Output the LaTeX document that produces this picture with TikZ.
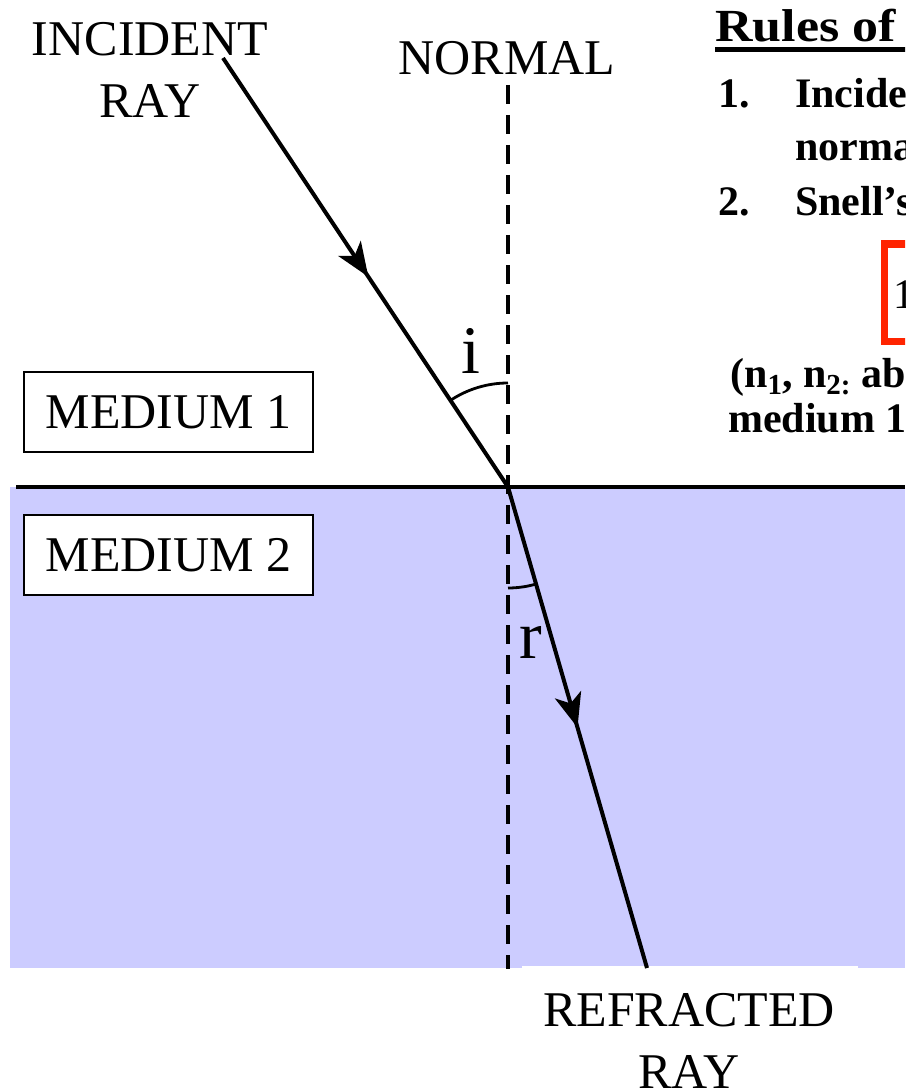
\documentclass[tikz,border=0pt]{standalone}
\usepackage{fontspec}
\setmainfont{Liberation Serif}
\usetikzlibrary{arrows.meta,decorations.markings,calc}
\definecolor{mediumblue}{RGB}{204,204,255}
\definecolor{snellred}{RGB}{255,36,0}
\begin{document}
\begin{tikzpicture}[x=1pt,y=-1pt,
  lbl/.style={font=\fontsize{50}{62}\selectfont, inner sep=0pt, align=center},
  anglbl/.style={font=\fontsize{68}{70}\selectfont, inner sep=0pt},
  ray/.style={line width=4pt},
  midarrow/.style={postaction={decorate}, decoration={markings,
      mark=at position #1 with {\arrow{Stealth[length=34pt,width=27pt,inset=9pt]}}}},
  normalline/.style={line width=3.7pt, dash pattern=on 19pt off 11pt},
  anglearc/.style={line width=2.8pt},
  medbox/.style={draw, line width=1.5pt, fill=white, minimum width=289pt,
      minimum height=80pt, inner sep=0pt, font=\fontsize{50}{62}\selectfont},
  rule/.style={font=\bfseries\fontsize{42}{48}\selectfont, inner sep=0pt, anchor=base west},
  snellbox/.style={draw=snellred, line width=7pt, inner sep=0pt}
]
\useasboundingbox (0,0) rectangle (905,1091);
\clip (0,0) rectangle (905,1091);
\fill[white] (0,0) rectangle (905,1091);

% points
\coordinate (inc) at (223,58);
\coordinate (O) at (508,487);
\coordinate (refr) at (647,968);
\coordinate (ntop) at (508,85);
\coordinate (nbot) at (508,969);
\coordinate (ifL) at (16,487);
\coordinate (ifR) at (905,487);

% medium 2 region
\fill[mediumblue] (10,487) rectangle (905,968);
\fill[white] (522,966) rectangle (858,975);

% normal and interface
\draw[normalline] (ntop) -- (nbot);
\draw[line width=4pt] (ifL) -- (ifR);

% rays
\draw[ray, midarrow=0.51] (inc) -- (O);
\draw[ray, midarrow=0.5] (O) -- (refr);

% angles
\draw[anglearc] ($(O)+(236.6:104)$) arc[start angle=236.6, end angle=270, radius=104];
\draw[anglearc] ($(O)+(90:101)$) arc[start angle=90, end angle=73.77, radius=101];
\node[anglbl, anchor=base] (ilbl) at (470.5,373) {i};
\node[anglbl, anchor=base] (rlbl) at (530.5,658) {r};

% labels
\node[lbl, anchor=north] (inclbl) at (150,22) {INCIDENT\\RAY};
\node[lbl, anchor=base] (nlbl) at (507,75) {NORMAL};
\node[lbl, anchor=north] (reflbl) at (689,993) {REFRACTED\\RAY};
\node[medbox] (m1) at (168.5,412) {MEDIUM 1};
\node[medbox] (m2) at (168.5,555) {MEDIUM 2};

% rules text (cut off at the right edge)
\node[font=\bfseries\fontsize{46}{50}\selectfont, inner sep=0pt, anchor=base west] (rules) at (715,42) {\scalebox{1.13}[1]{Rules of Refraction}};
\draw[line width=4.5pt] (715,49.5) -- (960,49.5);
\node[rule] (r1n) at (718,108) {1.};
\node[rule] (r1a) at (795,108) {Incident};
\node[rule] (r1b) at (795,161) {normal};
\node[rule] (r2n) at (718,215) {2.};
\node[rule] (r2a) at (795,215) {Snell’s};
\node[snellbox, anchor=north west, minimum width=80pt, minimum height=97pt] (snell) at (880.5,240.5) {};
\node[font=\fontsize{42}{48}\selectfont, inner sep=0pt, anchor=base west] (snelltxt) at (893,308) {1};
\node[rule] (r3a) at (730,387) {(n\raisebox{-7pt}{\fontsize{29}{30}\selectfont 1}, n\raisebox{-7pt}{\fontsize{29}{30}\selectfont 2:} absolute};
\node[rule] (r3b) at (728,432) {medium 1};
\end{tikzpicture}
\end{document}
